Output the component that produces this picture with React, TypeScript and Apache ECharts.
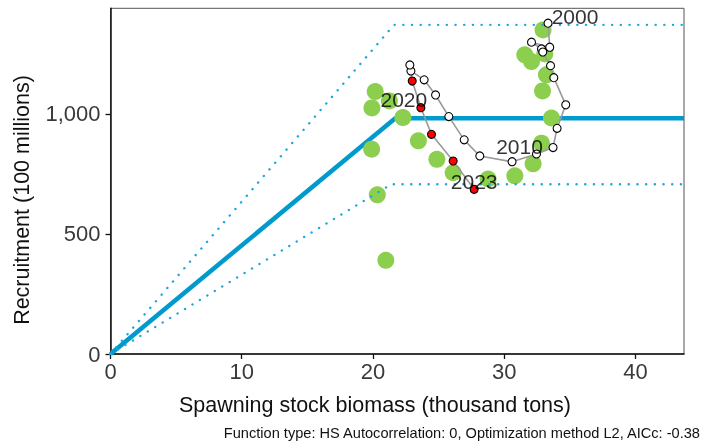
import React, { useEffect, useRef } from "react";
import * as echarts from "echarts";

// ---- data ----
const xTicks = [0, 10, 20, 30, 40];
const yTicks = [0, 500, 1000];
const xMax = 43.7;
const yMax = 1440;

// hockey-stick fit and its bounds: [SSB, R]
const hsFit = [[0, 0], [21.7, 982], [xMax, 982]];
const hsUpper = [[0, 0], [21.6, 1371], [xMax, 1371]];
const hsLower = [[0, 0], [21.4, 707], [xMax, 707]];

// green points
const greenSSB = [20.98, 20.33, 19.9, 20.17, 19.92, 21.25, 22.28, 23.46, 24.87, 26.11, 28.77, 30.81, 32.2, 32.84, 33.6, 32.92, 33.22, 32.08, 31.57, 32.96, 33.09];
const greenR = [390, 663, 853, 1093, 1025, 1054, 985, 888, 811, 755, 729, 742, 792, 878, 983, 1096, 1163, 1218, 1246, 1350, 1250];

// yearly trajectory 2000-2023
const years = [2000, 2001, 2002, 2003, 2004, 2005, 2006, 2007, 2008, 2009, 2010, 2011, 2012, 2013, 2014, 2015, 2016, 2017, 2018, 2019, 2020, 2021, 2022, 2023];
const pathSSB = [33.34, 33.47, 32.08, 32.84, 32.94, 33.53, 33.78, 34.69, 34.03, 33.72, 32.46, 30.6, 28.14, 26.95, 25.78, 24.77, 23.9, 22.89, 22.81, 22.99, 23.65, 24.46, 26.11, 27.71];
const pathR = [1378, 1278, 1299, 1271, 1258, 1201, 1151, 1038, 940, 860, 833, 801, 825, 892, 989, 1079, 1142, 1179, 1204, 1137, 1026, 915, 804, 686];
const recentFrom = 2019;
const labeledYears = [2000, 2010, 2020, 2023];

const xTitle = "Spawning stock biomass (thousand tons)";
const yTitle = "Recruitment (100 millions)";
const footnote = "Function type: HS Autocorrelation: 0, Optimization method L2, AICc: -0.38";

const FONT = "'Liberation Sans', Arial, sans-serif";
const BLUE = "#009ACD";

export default function App() {
  const ref = useRef<HTMLDivElement>(null);
  useEffect(() => {
    if (!ref.current) return;
    const chart = echarts.init(ref.current, undefined, { renderer: "svg" });

    const labelOffsets: Record<number, number[]> = {
      2000: [27, -7],
      2010: [-17, -8],
      2020: [-17, -8],
      2023: [0, -8],
    };

    const pathData = years.map((y, i) => ({
      value: [pathSSB[i], pathR[i]],
      itemStyle: y >= recentFrom ? { color: "#ff0000" } : { color: "#ffffff" },
    }));

    const labelData = labeledYears.map((y) => {
      const i = years.indexOf(y);
      return {
        value: [pathSSB[i], pathR[i]],
        year: y,
        label: { offset: labelOffsets[y] },
      };
    });

    const dotted = {
      type: "line",
      symbol: "none",
      silent: true,
      lineStyle: { color: "#1ea6dc", width: 2.4, type: [0.1, 8.6], cap: "round" },
      z: 4,
    };

    chart.setOption({
      animation: false,
      textStyle: { fontFamily: FONT },
      grid: {
        left: 110.5,
        right: 19,
        top: 8.3,
        bottom: 91,
        show: true,
        borderColor: "#555",
        borderWidth: 1,
        containLabel: false,
        outerBoundsMode: "none",
      },
      xAxis: {
        type: "value",
        min: 0,
        max: xMax,
        interval: 10,
        splitLine: { show: false },
        axisLine: { show: true, onZero: false, lineStyle: { color: "#111", width: 1.5 } },
        axisTick: { show: true, length: 5, customValues: xTicks, lineStyle: { color: "#111", width: 1.3 } },
        axisLabel: {
          customValues: xTicks,
          fontSize: 22,
          color: "#3a3a3a",
          margin: 6,
          fontFamily: FONT,
        },
      },
      yAxis: {
        type: "value",
        min: 0,
        max: yMax,
        interval: 500,
        splitLine: { show: false },
        axisLine: { show: true, onZero: false, lineStyle: { color: "#111", width: 1.5 } },
        axisTick: { show: true, length: 5, customValues: yTicks, lineStyle: { color: "#111", width: 1.3 } },
        axisLabel: {
          customValues: yTicks,
          fontSize: 22,
          color: "#3a3a3a",
          margin: 10,
          fontFamily: FONT,
          formatter: (v: number) => v.toLocaleString("en-US"),
        },
      },
      graphic: [
        {
          type: "text",
          x: 375,
          y: 405,
          style: { text: xTitle, fontSize: 21.5, fontFamily: FONT, fill: "#111", align: "center", verticalAlign: "middle" },
        },
        {
          type: "text",
          x: 22,
          y: 200,
          rotation: Math.PI / 2,
          style: { text: yTitle, fontSize: 21.5, fontFamily: FONT, fill: "#111", align: "center", verticalAlign: "middle" },
        },
        {
          type: "text",
          x: 700,
          y: 433,
          style: { text: footnote, fontSize: 14.6, fontFamily: FONT, fill: "#111", align: "right", verticalAlign: "middle" },
        },
      ],
      series: [
        {
          type: "line",
          data: hsFit,
          symbol: "none",
          silent: true,
          lineStyle: { color: BLUE, width: 4.5 },
          z: 2,
        },
        {
          type: "scatter",
          data: greenSSB.map((x, i) => [x, greenR[i]]),
          symbolSize: 17,
          itemStyle: { color: "#8ccf4e", opacity: 1 },
          z: 3,
        },
        { ...dotted, data: hsUpper },
        { ...dotted, data: hsLower },
        {
          type: "line",
          data: pathData,
          symbol: "circle",
          symbolSize: 8,
          showAllSymbol: true,
          lineStyle: { color: "#9a9a9a", width: 1.6 },
          itemStyle: { borderColor: "#000", borderWidth: 1.1 },
          z: 5,
        },
        {
          type: "scatter",
          data: labelData,
          symbolSize: 0,
          z: 6,
          label: {
            show: true,
            position: "inside",
            formatter: (p: any) => String(p.data.year),
            fontSize: 21,
            fontFamily: FONT,
            color: "#000",
            textBorderWidth: 0,
            align: "center",
            verticalAlign: "middle",
          },
        },
      ],
    });
    return () => chart.dispose();
  }, []);

  return <div ref={ref} style={{ position: "fixed", left: 0, top: 0, width: 703, height: 445 }} />;
}
